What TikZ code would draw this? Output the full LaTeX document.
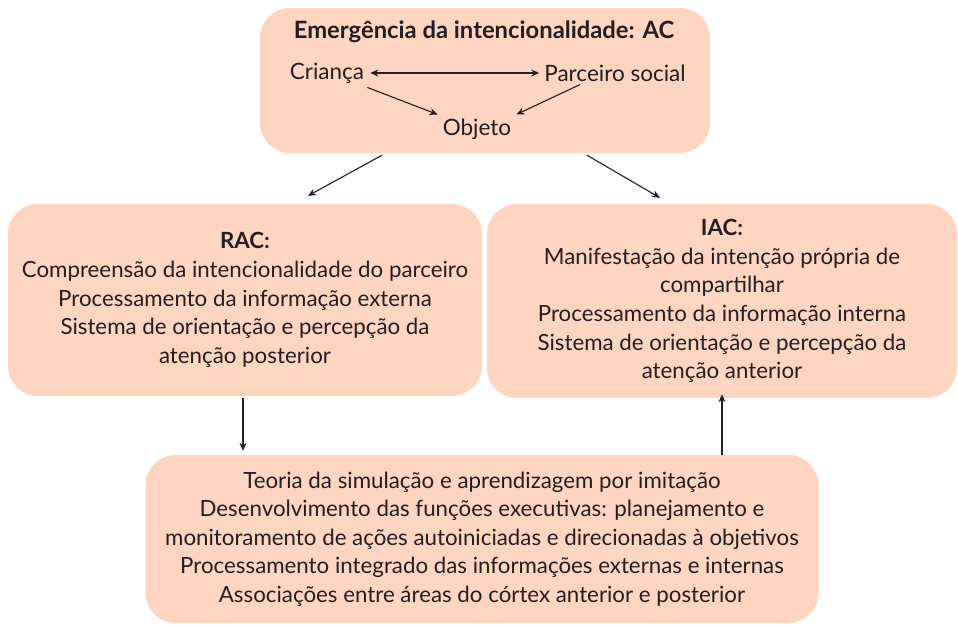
\documentclass[tikz,border=0pt]{standalone}
\usepackage{fontspec}
\setmainfont{Lato}
\usetikzlibrary{arrows.meta,calc}
\definecolor{boxfill}{HTML}{FDD5C1}
\definecolor{ink}{HTML}{231F20}
\begin{document}
\begin{tikzpicture}[x=1pt,y=-1pt,
  box/.style={fill=boxfill, draw=none, rounded corners=30pt, inner sep=0pt, align=center, text=ink,
    font=\fontsize{22.3}{28.6}\selectfont},
  lbl/.style={text=ink, inner sep=1pt, font=\fontsize{22.5}{26}\selectfont},
  arr/.style={draw=ink, line width=1.1pt, -{Stealth[length=8pt,width=7pt]}}]
\useasboundingbox (0,0) rectangle (958,625);
% boxes
\node[box, minimum width=450pt, minimum height=145pt] (top) at (485,80.5) {};
\node[box, minimum width=474pt, minimum height=192pt] (rac) at (245,300)
  {\textbf{RAC:}\\Compreensão da intencionalidade do parceiro\\Processamento da informação externa\\Sistema de orientação e percepção da\\atenção posterior};
\node[box, minimum width=470pt, minimum height=194pt] (iac) at (722,301)
  {\textbf{IAC:}\\Manifestação da intenção própria de\\compartilhar\\Processamento da informação interna\\Sistema de orientação e percepção da\\atenção anterior};
\node[box, minimum width=673pt, minimum height=168pt] (bot) at (482,539)
  {Teoria da simulação e aprendizagem por imitação\\Desenvolvimento das funções executivas: planejamento e\\monitoramento de ações autoiniciadas e direcionadas à objetivos\\Processamento integrado das informações externas e internas\\Associações entre áreas do córtex anterior e posterior};
% top contents
\node[lbl, font=\fontsize{23.8}{26}\selectfont\bfseries] (title) at (484,32) {Emergência da intencionalidade: AC};
\node[lbl] (crianca) at (327,73) {Criança};
\node[lbl] (parceiro) at (615,73) {Parceiro social};
\node[lbl] (objeto) at (477,129) {Objeto};
\draw[arr, {Stealth[length=8pt,width=7pt]}-{Stealth[length=8pt,width=7pt]}, shorten <=5pt, shorten >=4pt] (crianca) -- (parceiro);
\draw[arr] ($(crianca.south east)+(2,3)$) -- ($(objeto.north west)+(-4,-3)$);
\draw[arr] ($(parceiro.south)+(-35,2)$) -- ($(objeto.north east)+(4,-3)$);
% connectors
\draw[arr] ($(top.south)+(-103,2)$) -- ($(rac.north)+(63,-8)$);
\draw[arr] ($(top.south)+(102,2)$) -- ($(iac.north)+(-62,-6)$);
\draw[arr] ($(rac.south)+(-2,2)$) -- ($(bot.north)+(-239,-4)$);
\draw[arr] ($(bot.north)+(240,0)$) -- ($(iac.south)+(0,-4)$);
\end{tikzpicture}
\end{document}
